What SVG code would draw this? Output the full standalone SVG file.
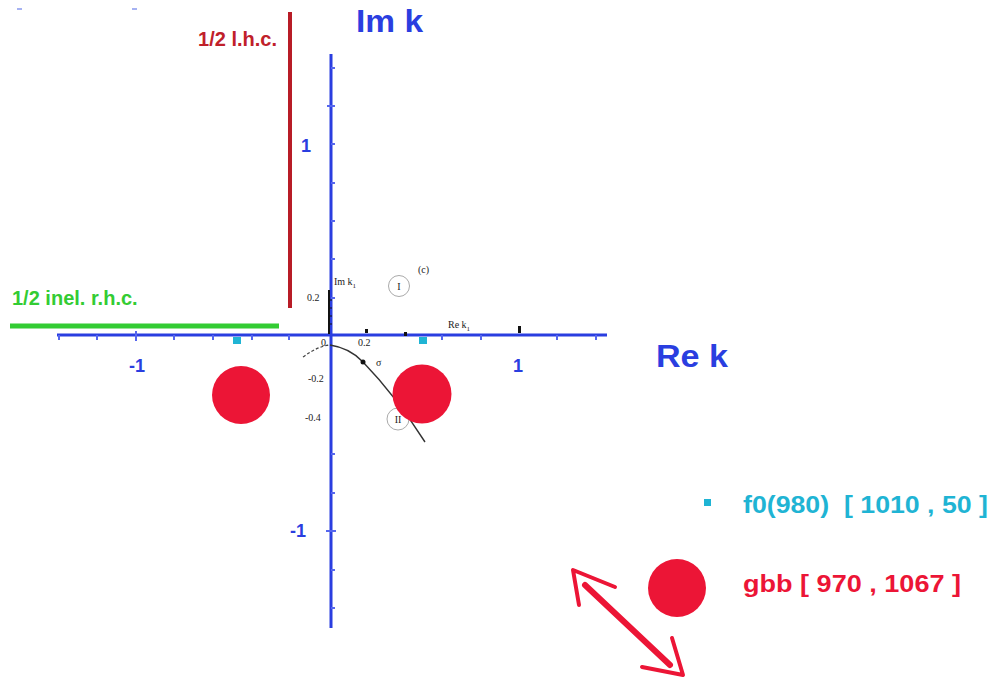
<svg xmlns="http://www.w3.org/2000/svg" width="1002" height="682" viewBox="0 0 1002 682">
<style>
.ax{stroke:#2a3ee0;stroke-width:3;fill:none}
.tk{stroke:#5566ee;stroke-width:2}
.lbl{font-family:"Liberation Sans",Arial,sans-serif;font-weight:bold;fill:#2a3ee0}
.sm{font-family:"Liberation Serif","Times New Roman",serif;fill:#222;font-size:10px}
.red{fill:#ec1536}
.cy{fill:#1fb4d4}
.big{font-family:"Liberation Sans",Arial,sans-serif;font-weight:bold}
</style>
<rect width="1002" height="682" fill="#fff"/>
<g id="stray">
<line x1="17" y1="9" x2="22" y2="9" stroke="#8899ee" stroke-width="1.5"/>
<line x1="132" y1="9" x2="137" y2="9" stroke="#8899ee" stroke-width="1.5"/>
</g>
<g id="axes">
<line class="ax" x1="331" y1="54" x2="331" y2="628"/>
<line class="ax" x1="57" y1="335" x2="607" y2="335"/>
<g class="tk">
<line x1="331" y1="68" x2="335" y2="68"/><line x1="327" y1="106" x2="335" y2="106"/>
<line x1="331" y1="144" x2="335" y2="144"/><line x1="331" y1="183" x2="335" y2="183"/>
<line x1="331" y1="221" x2="335" y2="221"/><line x1="331" y1="259" x2="335" y2="259"/>
<line x1="331" y1="298" x2="335" y2="298"/>
<line x1="331" y1="454" x2="335" y2="454"/><line x1="331" y1="493" x2="335" y2="493"/>
<line x1="326" y1="531" x2="336" y2="531"/><line x1="331" y1="570" x2="335" y2="570"/>
<line x1="331" y1="608" x2="335" y2="608"/>
<line x1="59" y1="335" x2="59" y2="340"/><line x1="97" y1="335" x2="97" y2="340"/>
<line x1="136" y1="331" x2="136" y2="341"/><line x1="174" y1="335" x2="174" y2="340"/>
<line x1="213" y1="335" x2="213" y2="340"/><line x1="252" y1="335" x2="252" y2="340"/>
<line x1="289" y1="335" x2="289" y2="340"/>
<line x1="442" y1="335" x2="442" y2="340"/><line x1="481" y1="335" x2="481" y2="340"/>
<line x1="557" y1="335" x2="557" y2="340"/><line x1="596" y1="335" x2="596" y2="340"/>
</g>
<text class="lbl" x="356" y="32" font-size="31" textLength="67" lengthAdjust="spacingAndGlyphs">Im k</text>
<text class="lbl" x="656" y="367" font-size="31" textLength="72" lengthAdjust="spacingAndGlyphs">Re k</text>
<text class="lbl" x="306" y="152" font-size="18" text-anchor="middle">1</text>
<text class="lbl" x="137" y="372" font-size="18" text-anchor="middle">-1</text>
<text class="lbl" x="518" y="372" font-size="18" text-anchor="middle">1</text>
<text class="lbl" x="298" y="537" font-size="18" text-anchor="middle">-1</text>
</g>
<g id="inset">
<line x1="329" y1="290" x2="329" y2="334" stroke="#111" stroke-width="2"/>
<g stroke="#111" stroke-width="1">
<line x1="329" y1="300" x2="332" y2="300"/><line x1="329" y1="308" x2="332" y2="308"/>
<line x1="329" y1="316" x2="332" y2="316"/><line x1="329" y1="324" x2="332" y2="324"/>
</g>
<rect x="365" y="329" width="3" height="4" fill="#111"/>
<rect x="404" y="332" width="3" height="4" fill="#111"/>
<rect x="518" y="326" width="3" height="7" fill="#111"/>
<text class="sm" x="334" y="285">Im k<tspan font-size="7" dy="3">1</tspan></text>
<text class="sm" x="307" y="301" font-size="9">0.2</text>
<text class="sm" x="448" y="328">Re k<tspan font-size="7" dy="3">1</tspan></text>
<text class="sm" x="358" y="346" font-size="9">0.2</text>
<text class="sm" x="321" y="346" font-size="9">0.</text>
<text class="sm" x="308" y="382" font-size="9">-0.2</text>
<text class="sm" x="305" y="421" font-size="9">-0.4</text>
<text class="sm" x="418" y="273" font-size="11">(c)</text>
<circle cx="399" cy="286" r="10.5" fill="none" stroke="#aaa" stroke-width="1"/>
<text class="sm" x="399" y="290" font-size="12" text-anchor="middle">I</text>
<circle cx="398" cy="419" r="11" fill="none" stroke="#aaa" stroke-width="1"/>
<text class="sm" x="398" y="423" font-size="12" text-anchor="middle">II</text>
<path d="M303,357 Q318,346 330,345" fill="none" stroke="#444" stroke-width="1.2" stroke-dasharray="3,2"/>
<path d="M330,345 Q350,348 363,362 Q395,395 425,442" fill="none" stroke="#333" stroke-width="1.4"/>
<circle cx="363" cy="362" r="2.5" fill="#111"/>
<text class="sm" x="376" y="366" font-size="13">σ</text>
</g>
<g id="lhc">
<line x1="290" y1="12" x2="290" y2="308" stroke="#b81c26" stroke-width="4"/>
<text class="big" x="277" y="46" font-size="20" fill="#c0202a" text-anchor="end">1/2 l.h.c.</text>
</g>
<g id="rhc">
<line x1="10" y1="326" x2="279" y2="326" stroke="#33cc33" stroke-width="5"/>
<text class="big" x="12" y="305" font-size="20" fill="#33cc33">1/2 inel. r.h.c.</text>
</g>
<g id="f0">
<rect x="233" y="337" width="8" height="7" class="cy"/>
<rect x="419" y="337" width="8" height="7" class="cy"/>
</g>
<g id="gbb">
<circle cx="241" cy="395" r="29" class="red"/>
<circle cx="422" cy="394" r="29.5" class="red"/>
</g>
<g id="legend">
<rect x="704" y="499" width="7" height="7" class="cy"/>
<text class="big" x="743" y="513" font-size="24" fill="#1fb4d4" xml:space="preserve" textLength="245" lengthAdjust="spacingAndGlyphs">f0(980)  [ 1010 , 50 ]</text>
<circle cx="677" cy="588" r="29" class="red"/>
<text class="big" x="743" y="592" font-size="24" fill="#ec1536" textLength="218" lengthAdjust="spacingAndGlyphs">gbb [ 970 , 1067 ]</text>
</g>
<g id="arrow" stroke="#ec1536" fill="none" stroke-linecap="round" stroke-linejoin="round">
<line x1="585" y1="585" x2="670" y2="665" stroke-width="6"/>
<polyline points="615,587 573,570 579,605" stroke-width="4"/>
<polyline points="672,638 683,675 642,667" stroke-width="4"/>
</g>
</svg>
